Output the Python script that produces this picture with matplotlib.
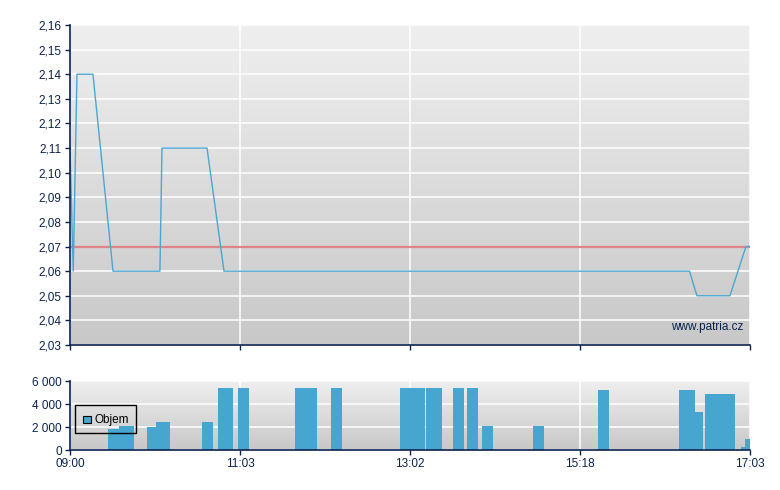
import numpy as np
import matplotlib
matplotlib.use("Agg")
import matplotlib.pyplot as plt
from matplotlib.patches import Rectangle

plt.rcParams['font.family'] = ['Liberation Sans', 'DejaVu Sans']

# osa x: pozice v seanci (0 = 09:00, 4 = 17:03)
tick_pos = [0, 1, 2, 3, 4]
tick_labels = ["09:00", "11:03", "13:02", "15:18", "17:03"]

# cena
price_x = [0, 0.019, 0.041, 0.135, 0.253, 0.529, 0.541, 0.806, 0.906,
           3.644, 3.688, 3.882, 3.976, 4.0]
price_y = [2.11, 2.06, 2.14, 2.14, 2.06, 2.06, 2.11, 2.11, 2.06,
           2.06, 2.05, 2.05, 2.07, 2.07]
ref_price = 2.07

# objem
bar_left = [0.225, 0.290, 0.453, 0.506, 0.776, 0.871, 0.990, 1.325, 1.535,
            1.941, 2.094, 2.253, 2.335, 2.424, 2.724, 3.106, 3.582, 3.676,
            3.735, 3.947, 3.971]
bar_right = [0.290, 0.376, 0.506, 0.588, 0.841, 0.959, 1.053, 1.453, 1.600,
             2.086, 2.188, 2.318, 2.400, 2.488, 2.786, 3.171, 3.676, 3.724,
             3.912, 3.971, 4.0]
volume = [1800, 2100, 2000, 2400, 2400, 5400, 5400, 5400, 5400,
          5400, 5400, 5400, 5400, 2100, 2100, 5200, 5200, 3300,
          4900, 260, 950]

navy = "#0b2250"
blue = "#47a6cf"

fig = plt.figure(figsize=(7.8, 4.9), dpi=100)
ax = fig.add_axes([70/780, 145/490, 680/780, 320/490])
ax2 = fig.add_axes([70/780, 40/490, 680/780, 69/490])

grad = np.linspace(0, 1, 256).reshape(-1, 1)
for a in (ax, ax2):
    a.imshow(grad, extent=[0, 1, 0, 1], transform=a.transAxes, aspect='auto',
             cmap=matplotlib.colors.LinearSegmentedColormap.from_list("g", ["#efefef", "#c8c8c8"]),
             zorder=0)
    a.set_xlim(0, 4)
    a.set_xticks(tick_pos)
    a.grid(True, color="white", linewidth=1.1, zorder=1)
    a.set_axisbelow(True)
    for s in ("top", "right"):
        a.spines[s].set_visible(False)
    for s in ("left", "bottom"):
        a.spines[s].set_color(navy)
        a.spines[s].set_linewidth(1.2)
        a.spines[s].set_zorder(5)
    a.tick_params(colors=navy, labelcolor=navy, labelsize=8.5, length=3.5, width=1, pad=2.5)

# hlavni graf
ax.set_ylim(2.03, 2.16)
yt = np.round(np.arange(2.03, 2.1601, 0.01), 2)
ax.set_yticks(yt)
ax.set_yticklabels([f"{v:.2f}".replace(".", ",") for v in yt])
ax.set_xticklabels([])
ax.axhline(ref_price, color="#e08585", linewidth=1.6, zorder=2)
ax.plot(price_x, price_y, color="#4aa7d2", linewidth=1.0, zorder=3)
ax.text(0.99, 0.055, "www.patria.cz", transform=ax.transAxes, ha="right",
        va="center", color=navy, fontsize=8.5, zorder=4)

# objem
widths = [r - l for l, r in zip(bar_left, bar_right)]
ax2.bar(bar_left, volume, width=widths, align="edge", color=blue, zorder=3)
ax2.set_ylim(0, 6000)
ax2.set_yticks([0, 2000, 4000, 6000])
ax2.set_yticklabels(["0", "2 000", "4 000", "6 000"])
ax2.set_xticklabels(tick_labels)

# legenda
ax2.add_patch(Rectangle((0.008, 0.24), 0.089, 0.41, transform=ax2.transAxes,
                        facecolor="none", edgecolor="black", linewidth=1, zorder=6))
ax2.add_patch(Rectangle((0.0195, 0.39), 0.011, 0.1, transform=ax2.transAxes,
                        facecolor=blue, edgecolor="black", linewidth=0.8, zorder=6))
ax2.text(0.036, 0.44, "Objem", transform=ax2.transAxes, va="center",
         fontsize=8.5, color="black", zorder=6)

fig.savefig("out.png", dpi=100)
